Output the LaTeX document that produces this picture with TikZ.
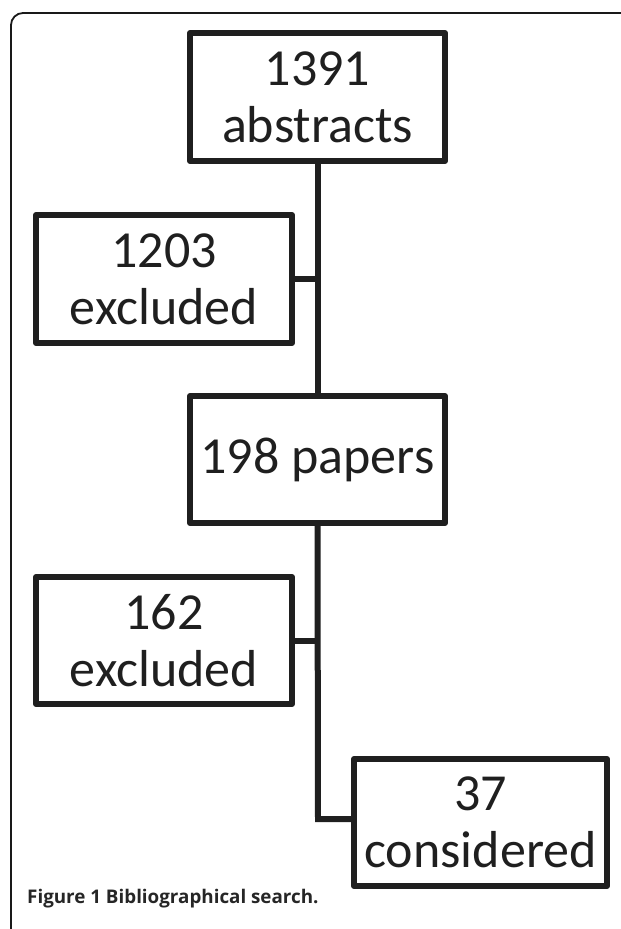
\documentclass[tikz,border=0pt]{standalone}
\usepackage{fontspec}
\setmainfont{Carlito}
\newfontfamily\capfont{Open Sans}
\begin{document}
\begin{tikzpicture}[x=1pt,y=-1pt,
  stepbox/.style={draw=black!88, line width=6pt, line join=round, inner sep=0pt,
    align=center, font=\fontsize{52}{57}\selectfont, text=black!88},
  conn/.style={draw=black!88, line width=6pt},
  frame/.style={draw=black!90, line width=1.8pt}]
\useasboundingbox (0,0) rectangle (621,929);
\draw[frame, rounded corners=12pt] (11,929) -- (11,13) -- (621,13);
\node[stepbox, minimum width=255pt, minimum height=128pt] (abs) at (317.5,97) {1391\\abstracts};
\node[stepbox, minimum width=256pt, minimum height=128pt] (ex1) at (164,279) {1203\\excluded};
\node[stepbox, minimum width=255pt, minimum height=127pt] (pap) at (317.5,459.5) {198 papers};
\node[stepbox, minimum width=256pt, minimum height=127pt] (ex2) at (164,640.5) {162\\excluded};
\node[stepbox, minimum width=253pt, minimum height=127pt] (con) at (480.5,822.5) {37\\considered};
\coordinate (j1) at (318,279);
\coordinate (j2) at (318,640.5);
\coordinate (j3) at (318,819);
\draw[conn] (abs.south) -- (pap.north);
\draw[conn] (ex1.east) -- (j1);
\draw[conn, line join=miter] (pap.south) -- (j3) -- (con.west |- j3);
\draw[conn] (ex2.east) -- (j2);
\node[anchor=base west, inner sep=0pt, font=\capfont\fontsize{18.8}{22}\selectfont\bfseries, text=black!85] (cap) at (27,903) {Figure 1 Bibliographical search.};
\end{tikzpicture}
\end{document}
